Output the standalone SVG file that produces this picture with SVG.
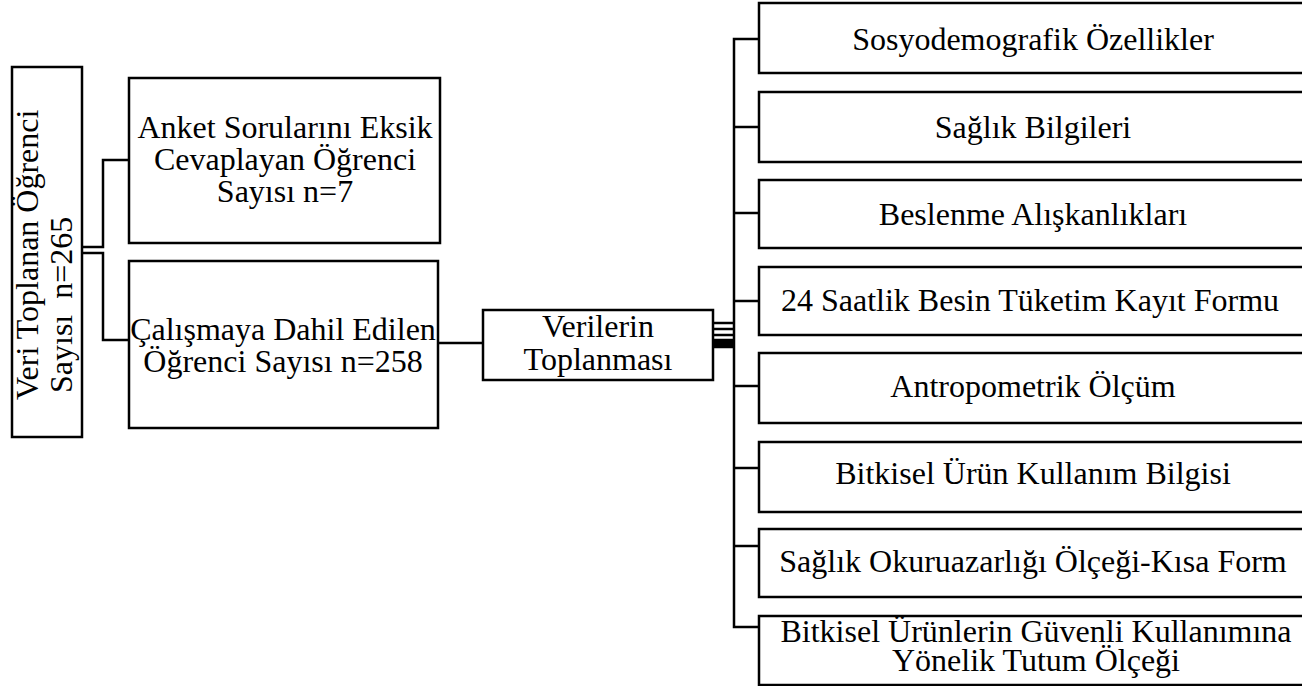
<svg xmlns="http://www.w3.org/2000/svg" width="1302" height="686" viewBox="0 0 1302 686">
<style>
.box{fill:#fff;stroke:#000;stroke-width:2.5}
.t{font-family:"Liberation Serif","Times New Roman",serif;font-size:32px;fill:#000;text-anchor:middle}
.ts{font-family:"Liberation Serif","Times New Roman",serif;font-size:32px;fill:#000}
.c{fill:none;stroke:#000;stroke-width:2.5}
</style>
<rect width="1302" height="686" fill="#fff"/>
<g id="connectors">
<polyline class="c" points="83,247 103,247 103,160 129,160"/>
<polyline class="c" points="83,253 103,253 103,340 129,340"/>
<line class="c" x1="438" y1="343" x2="483" y2="343"/>
<line class="c" x1="713" y1="323" x2="734" y2="323"/>
<line class="c" x1="713" y1="329" x2="734" y2="329"/>
<line class="c" x1="713" y1="335" x2="734" y2="335"/>
<line class="c" x1="713" y1="340" x2="734" y2="340"/>
<line class="c" x1="713" y1="342" x2="734" y2="342"/>
<line class="c" x1="713" y1="344" x2="734" y2="344"/>
<line class="c" x1="713" y1="346" x2="734" y2="346"/>
<line class="c" x1="713" y1="347" x2="734" y2="347"/>
<polyline class="c" points="759,39 734,39 734,627 759,627"/>
<line class="c" x1="734" y1="127" x2="759" y2="127"/>
<line class="c" x1="734" y1="213" x2="759" y2="213"/>
<line class="c" x1="734" y1="301" x2="759" y2="301"/>
<line class="c" x1="734" y1="386" x2="759" y2="386"/>
<line class="c" x1="734" y1="468" x2="759" y2="468"/>
<line class="c" x1="734" y1="546" x2="759" y2="546"/>
</g>
<g id="n_total">
<rect class="box" x="12" y="67" width="70" height="370"/>
<text class="ts" transform="translate(38,400) rotate(-90)">Veri Toplanan Öğrenci</text>
<text class="ts" xml:space="preserve" transform="translate(72,393) rotate(-90)">Sayısı  n=265</text>
</g>
<g id="n_eksik">
<rect class="box" x="129" y="78" width="311" height="165"/>
<text class="t" x="285" y="138">Anket Sorularını Eksik</text>
<text class="t" x="285" y="170">Cevaplayan Öğrenci</text>
<text class="t" x="285" y="202">Sayısı n=7</text>
</g>
<g id="n_dahil">
<rect class="box" x="129" y="261" width="309" height="167"/>
<text class="t" x="283" y="340">Çalışmaya Dahil Edilen</text>
<text class="t" x="283" y="372">Öğrenci Sayısı n=258</text>
</g>
<g id="n_veri">
<rect class="box" x="483" y="310" width="230" height="70"/>
<text class="t" x="598" y="337">Verilerin</text>
<text class="t" x="598" y="370">Toplanması</text>
</g>
<g id="r1"><rect class="box" x="759" y="3" width="550" height="70"/><text class="t" x="1033" y="50">Sosyodemografik Özellikler</text></g>
<g id="r2"><rect class="box" x="759" y="92" width="550" height="70"/><text class="t" x="1033" y="138">Sağlık Bilgileri</text></g>
<g id="r3"><rect class="box" x="759" y="180" width="550" height="68"/><text class="t" x="1033" y="225">Beslenme Alışkanlıkları</text></g>
<g id="r4"><rect class="box" x="759" y="267" width="550" height="68"/><text class="t" x="1030" y="311">24 Saatlik Besin Tüketim Kayıt Formu</text></g>
<g id="r5"><rect class="box" x="759" y="353" width="550" height="70"/><text class="t" x="1033" y="397">Antropometrik Ölçüm</text></g>
<g id="r6"><rect class="box" x="759" y="442" width="550" height="70"/><text class="t" x="1033" y="484">Bitkisel Ürün Kullanım Bilgisi</text></g>
<g id="r7"><rect class="box" x="759" y="529" width="550" height="68"/><text class="t" x="1033" y="572">Sağlık Okuruazarlığı Ölçeği-Kısa Form</text></g>
<g id="r8"><rect class="box" x="759" y="616" width="550" height="69"/><text class="t" x="1036" y="642">Bitkisel Ürünlerin Güvenli Kullanımına</text><text class="t" x="1036" y="671">Yönelik Tutum Ölçeği</text></g>
</svg>
